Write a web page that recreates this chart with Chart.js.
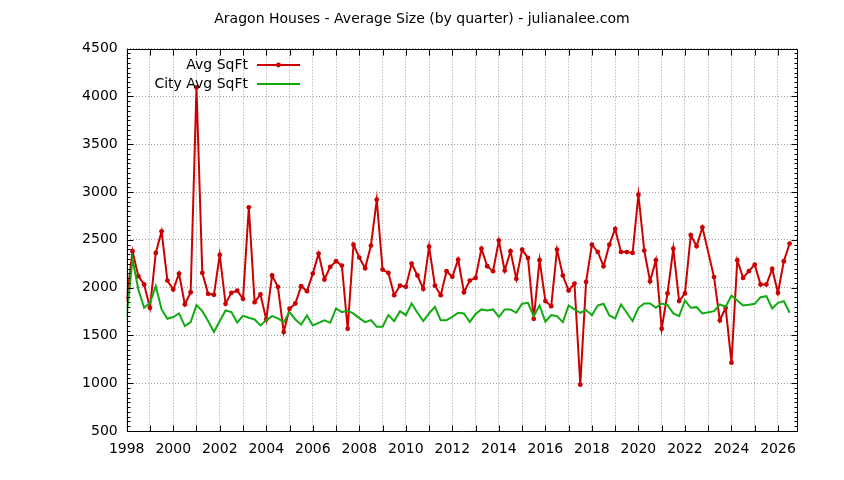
<!DOCTYPE html>
<html>
<head>
<meta charset="utf-8">
<script src="https://cdn.jsdelivr.net/npm/chart.js@4"></script>
<style>
  html, body { margin: 0; padding: 0; background: #ffffff; }
  #wrap { width: 844px; height: 480px; }
</style>
</head>
<body>
<div id="wrap"><canvas id="c" width="844" height="480"></canvas></div>
<script>
// ---- data ----
const titleText = "Aragon Houses - Average Size (by quarter) - julianalee.com";
const seriesNames = ["Avg SqFt", "City Avg SqFt"];

// quarter positions (decimal years); 2023.00 has no data in the reference
const quarters = [
  1998.00,1998.25,1998.50,1998.75,1999.00,1999.25,1999.50,1999.75,
  2000.00,2000.25,2000.50,2000.75,2001.00,2001.25,2001.50,2001.75,
  2002.00,2002.25,2002.50,2002.75,2003.00,2003.25,2003.50,2003.75,
  2004.00,2004.25,2004.50,2004.75,2005.00,2005.25,2005.50,2005.75,
  2006.00,2006.25,2006.50,2006.75,2007.00,2007.25,2007.50,2007.75,
  2008.00,2008.25,2008.50,2008.75,2009.00,2009.25,2009.50,2009.75,
  2010.00,2010.25,2010.50,2010.75,2011.00,2011.25,2011.50,2011.75,
  2012.00,2012.25,2012.50,2012.75,2013.00,2013.25,2013.50,2013.75,
  2014.00,2014.25,2014.50,2014.75,2015.00,2015.25,2015.50,2015.75,
  2016.00,2016.25,2016.50,2016.75,2017.00,2017.25,2017.50,2017.75,
  2018.00,2018.25,2018.50,2018.75,2019.00,2019.25,2019.50,2019.75,
  2020.00,2020.25,2020.50,2020.75,2021.00,2021.25,2021.50,2021.75,
  2022.00,2022.25,2022.50,2022.75,        2023.25,2023.50,2023.75,
  2024.00,2024.25,2024.50,2024.75,2025.00,2025.25,2025.50,2025.75,
  2026.00,2026.25,2026.50
];

const avgSqFt = [
  1876,2381,2120,2033,1789,2363,2589,2074,
  1980,2147,1824,1952,4095,2154,1935,1925,
  2342,1831,1946,1968,1883,2840,1848,1928,
  1667,2127,2008,1535,1779,1834,2015,1963,
  2147,2356,2085,2217,2276,2231,1570,2450,
  2315,2203,2440,2920,2189,2154,1921,2022,
  2008,2252,2127,1987,2429,2022,1921,2172,
  2113,2294,1952,2074,2102,2408,2224,2172,
  2492,2179,2381,2092,2398,2311,1674,2287,
  1859,1806,2398,2127,1970,2043,985,2060,
  2450,2374,2224,2450,2614,2374,2372,2363,
  2972,2388,2067,2287,1570,1939,2408,1859,
  1939,2550,2433,2631,     2110,1657,1789,
  1215,2287,2102,2172,2241,2033,2033,2196,
  1946,2276,2461
];

const cityAvgSqFt = [
  1702,2300,1980,1789,1841,2015,1772,1674,
  1692,1730,1598,1639,1817,1754,1650,1535,
  1650,1761,1744,1636,1705,1685,1667,1605,
  1660,1702,1678,1639,1744,1667,1615,1709,
  1605,1632,1657,1632,1782,1744,1761,1728,
  1681,1639,1660,1591,1591,1712,1650,1754,
  1712,1834,1737,1650,1730,1800,1660,1660,
  1695,1737,1730,1641,1725,1772,1761,1772,
  1695,1772,1772,1737,1831,1841,1702,1813,
  1643,1712,1702,1639,1813,1772,1737,1765,
  1712,1813,1831,1709,1678,1824,1737,1650,
  1789,1834,1834,1789,1834,1817,1730,1702,
  1866,1789,1796,1730,     1754,1824,1800,
  1918,1866,1813,1820,1831,1900,1911,1782,
  1841,1859,1737
];

const xMin = 1998, xMax = 2026.83;
const yMin = 500, yMax = 4500, yStep = 500, yMinorStep = 50;

// ---- styles ----
const FONT = "'DejaVu Sans', sans-serif";
const FSIZE = 14;
const RED = '#cc0000';
const GREEN = '#11aa11';

function toPoints(xs, ys) { return xs.map((x, i) => ({ x: x, y: ys[i] })); }

const framePlugin = {
  id: 'gnuplotFrame',
  afterDraw(chart) {
    const { ctx, chartArea: ca, scales } = chart;
    const xs = scales.x, ys = scales.y;
    ctx.save();
    ctx.strokeStyle = '#000';
    ctx.lineWidth = 1;
    const L = Math.round(ca.left) + 0.5, R = Math.round(ca.right) + 0.5;
    const T = Math.round(ca.top) + 0.5, B = Math.round(ca.bottom) + 0.5;
    ctx.beginPath();
    ctx.rect(L, T, R - L, B - T);
    ctx.stroke();
    // y ticks (major + minor), inward on left and right
    ctx.beginPath();
    for (let v = yMin; v <= yMax; v += yMinorStep) {
      const py = Math.round(ys.getPixelForValue(v)) + 0.5;
      const len = (v % yStep === 0) ? 6 : 3;
      ctx.moveTo(L, py); ctx.lineTo(L + len, py);
      ctx.moveTo(R, py); ctx.lineTo(R - len, py);
    }
    // x ticks every year, inward on bottom and top
    for (let yr = Math.ceil(xMin); yr <= xMax; yr++) {
      const px = Math.round(xs.getPixelForValue(yr)) + 0.5;
      ctx.moveTo(px, B); ctx.lineTo(px, B - 6);
      ctx.moveTo(px, T); ctx.lineTo(px, T + 6);
    }
    ctx.stroke();

    // title
    ctx.fillStyle = '#000';
    ctx.font = FSIZE + 'px ' + FONT;
    ctx.textAlign = 'center';
    ctx.textBaseline = 'middle';
    ctx.fillText(titleText, 422, 19);

    // legend (gnuplot style: right-aligned text, then line sample)
    const rows = [
      { ds: chart.data.datasets[0], y: 65 },
      { ds: chart.data.datasets[1], y: 84 }
    ];
    ctx.textAlign = 'right';
    rows.forEach(r => {
      ctx.fillStyle = '#000';
      ctx.fillText(r.ds.label, 248, r.y);
      ctx.strokeStyle = r.ds.borderColor;
      ctx.lineWidth = 2;
      ctx.beginPath();
      ctx.moveTo(257, r.y); ctx.lineTo(300, r.y);
      ctx.stroke();
      if (r.ds.pointRadius > 0) {
        ctx.fillStyle = r.ds.borderColor;
        ctx.beginPath();
        ctx.arc(278.5, r.y, 2.4, 0, Math.PI * 2);
        ctx.fill();
      }
    });
    ctx.restore();
  }
};

new Chart(document.getElementById('c'), {
  type: 'line',
  data: {
    datasets: [
      {
        label: seriesNames[0],
        data: toPoints(quarters, avgSqFt),
        borderColor: RED,
        backgroundColor: RED,
        borderWidth: 2,
        pointRadius: 2.4,
        pointBorderWidth: 0,
        pointBackgroundColor: RED,
        tension: 0,
        order: 2
      },
      {
        label: seriesNames[1],
        data: toPoints(quarters, cityAvgSqFt),
        borderColor: GREEN,
        backgroundColor: GREEN,
        borderWidth: 2,
        pointRadius: 0,
        tension: 0,
        order: 1
      }
    ]
  },
  options: {
    responsive: false,
    animation: false,
    devicePixelRatio: 1,
    layout: { padding: { left: 0, right: 46.7, top: 48.7, bottom: 0 } },
    plugins: {
      legend: { display: false },
      title: { display: false },
      tooltip: { enabled: false }
    },
    scales: {
      x: {
        type: 'linear',
        min: xMin,
        max: xMax,
        afterFit(s) { s.height = 49; },
        grid: {
          color: '#a0a0a0',
          lineWidth: 1,
          drawTicks: false
        },
        border: { display: false, dash: [1, 2] },
        ticks: {
          stepSize: 1,
          includeBounds: false,
          autoSkip: false,
          maxRotation: 0,
          padding: 10,
          color: '#000',
          font: { family: FONT, size: FSIZE },
          callback(v) { return (v % 2 === 0) ? String(v) : ''; }
        }
      },
      y: {
        type: 'linear',
        min: yMin,
        max: yMax,
        afterFit(s) { s.width = 126.7; },
        grid: {
          color: '#a0a0a0',
          lineWidth: 1,
          drawTicks: false
        },
        border: { display: false, dash: [1, 2] },
        ticks: {
          stepSize: yStep,
          padding: 9,
          color: '#000',
          font: { family: FONT, size: FSIZE },
          callback(v) { return String(v); }
        }
      }
    }
  },
  plugins: [framePlugin]
});
</script>
</body>
</html>
